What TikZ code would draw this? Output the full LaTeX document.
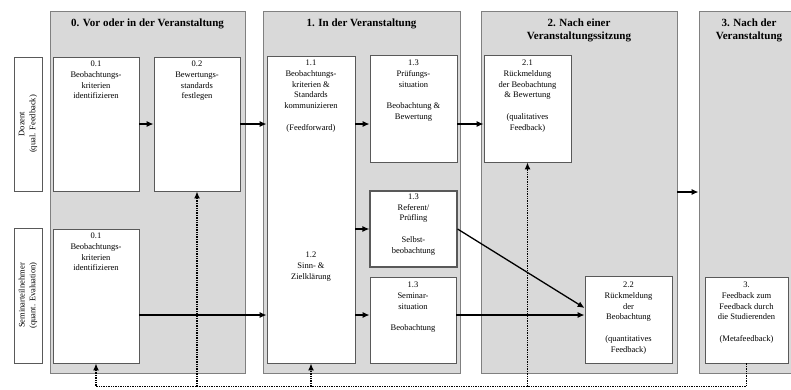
\documentclass[tikz,border=0pt]{standalone}
\usepackage{fontspec}
\setmainfont{Liberation Serif}
\usepackage{tikz}
\usetikzlibrary{arrows}
\usetikzlibrary{arrows.meta}
\usetikzlibrary{positioning}
\tikzset{phase/.style = {draw = gray, fill = black!15, line width = 0.8pt}}
\tikzset{stage/.style = {draw = black!65, fill = white, line width = 0.8pt, inner sep = 0}}
\tikzset{stagetext/.style = {align = center, font = \fontsize{8.5}{10.8}\selectfont, inner sep = 0}}
\tikzset{phasetitle/.style = {align = center, font = \fontsize{11}{13}\selectfont\bfseries, inner sep = 0}}
\tikzset{flow/.style = {-{Latex[length = 7pt, width = 6pt]}, line width = 1.3pt}}
\tikzset{back/.style = {-{Latex[length = 7pt, width = 6pt]}, line width = 1.8pt, dash pattern = on 1.4pt off 1pt}}

\begin{document}
\begin{tikzpicture}[x = 1pt, y = -1pt]
    \useasboundingbox (0, 0) rectangle (791, 389);
    \clip (0, 0) rectangle (791, 389);

    \node [phase, minimum width = 195, minimum height = 362] (p0) at (147.5, 192) {};
    \node [phase, minimum width = 197, minimum height = 362] (p1) at (361.5, 192) {};
    \node [phase, minimum width = 196, minimum height = 362] (p2) at (579, 192) {};
    \node [phase, minimum width = 120, minimum height = 362] (p3) at (759, 192) {};

    \node [phasetitle] (h0) at (147.5, 24) {0. Vor oder in der Veranstaltung};
    \node [phasetitle] (h1) at (361.5, 24) {1. In der Veranstaltung};
    \node [phasetitle] (h2) at (579, 30.5) {2. Nach einer\\Veranstaltungssitzung};
    \node [phasetitle] (h3) at (749, 30) {3. Nach der\\Veranstaltung};

    \node [stage, stagetext, rotate = 90, minimum width = 134, minimum height = 28] (dozent) at (28, 124) {Dozent\\(qual. Feedback)};
    \node [stage, stagetext, rotate = 90, minimum width = 135, minimum height = 28] (seminar) at (28, 295.5) {Seminarteilnehmer\\(quant. Evaluation)};

    \node [stage, minimum width = 86, minimum height = 134] (b01) at (96, 124) {};
    \node [stagetext, below = 4pt of b01.north] (t01) {0.1\\Beobachtungs-\\kriterien\\identifizieren};
    \node [stage, minimum width = 86, minimum height = 134] (b02) at (197, 124) {};
    \node [stagetext, below = 4pt of b02.north] (t02) {0.2\\Bewertungs-\\standards\\festlegen};
    \node [stage, minimum width = 86, minimum height = 134] (b01s) at (96, 296) {};
    \node [stagetext, below = 4pt of b01s.north] (t01s) {0.1\\Beobachtungs-\\kriterien\\identifizieren};

    \node [stage, minimum width = 88, minimum height = 307] (b11) at (311, 209.5) {};
    \node [stagetext, below = 4pt of b11.north] (t11) {1.1\\Beobachtungs-\\kriterien \&\\Standards\\kommunizieren\\[10.8pt](Feedforward)};
    \node [stagetext, below = 196pt of b11.north] (t12) {1.2\\Sinn- \&\\Zielklärung};

    \node [stage, minimum width = 87, minimum height = 107] (b13p) at (413.5, 108.5) {};
    \node [stagetext, below = 5pt of b13p.north] (t13p) {1.3\\Prüfungs-\\situation\\[10.8pt]Beobachtung \&\\Bewertung};
    \node [stage, line width = 1.1pt, minimum width = 87, minimum height = 76] (b13r) at (413.5, 229) {};
    \node [stagetext, below = 3pt of b13r.north] (t13r) {1.3\\Referent/\\Prüfling\\[10.8pt]Selbst-\\beobachtung};
    \node [stage, minimum width = 86, minimum height = 86] (b13s) at (413, 320) {};
    \node [stagetext, below = 5pt of b13s.north] (t13s) {1.3\\Seminar-\\situation\\[10.8pt]Beobachtung};

    \node [stage, minimum width = 87, minimum height = 107] (b21) at (527.5, 108.5) {};
    \node [stagetext, below = 5pt of b21.north] (t21) {2.1\\Rückmeldung\\der Beobachtung\\\& Bewertung\\[10.8pt](qualitatives\\Feedback)};
    \node [stage, minimum width = 87, minimum height = 87] (b22) at (628.5, 319.5) {};
    \node [stagetext, below = 6pt of b22.north] (t22) {2.2\\Rückmeldung\\der\\Beobachtung\\[10.8pt](quantitatives\\Feedback)};

    \node [stage, minimum width = 83, minimum height = 86] (b3) at (746.5, 320) {};
    \node [stagetext, below = 5pt of b3.north] (t3) {3.\\Feedback zum\\Feedback durch\\die Studierenden\\[10.8pt](Metafeedback)};

    \coordinate (lane) at (0, 315);
    \coordinate (hit) at (0, 308);
    \coordinate (fbl) at (0, 386.5);

    \draw [flow] (b01.east) -- (b02.west);
    \draw [flow] (b02.east) -- (b11.west |- b02.east);
    \draw [flow] (b11.east |- b02.east) -- (b13p.west |- b02.east);
    \draw [flow] (b13p.east |- b02.east) -- (b21.west |- b02.east);
    \draw [flow] (p2.east) -- (p3.west);
    \draw [flow] (b11.east |- b13r.west) -- (b13r.west);
    \draw [flow] (b01s.east |- lane) -- (b11.west |- lane);
    \draw [flow] (b11.east |- lane) -- (b13s.west |- lane);
    \draw [flow] (b13s.east |- lane) -- (b22.west |- lane);
    \draw [flow] (b13r.east) -- (b22.west |- hit);

    \draw [back] (b3.south) -- (b3.south |- fbl) -- (b01s.south |- fbl) -- (b01s.south);
    \draw [back] (b02.south |- fbl) -- (b02.south);
    \draw [back] (b11.south |- fbl) -- (b11.south);
    \draw [back] (b21.south |- fbl) -- (b21.south);
\end{tikzpicture}
\end{document}
